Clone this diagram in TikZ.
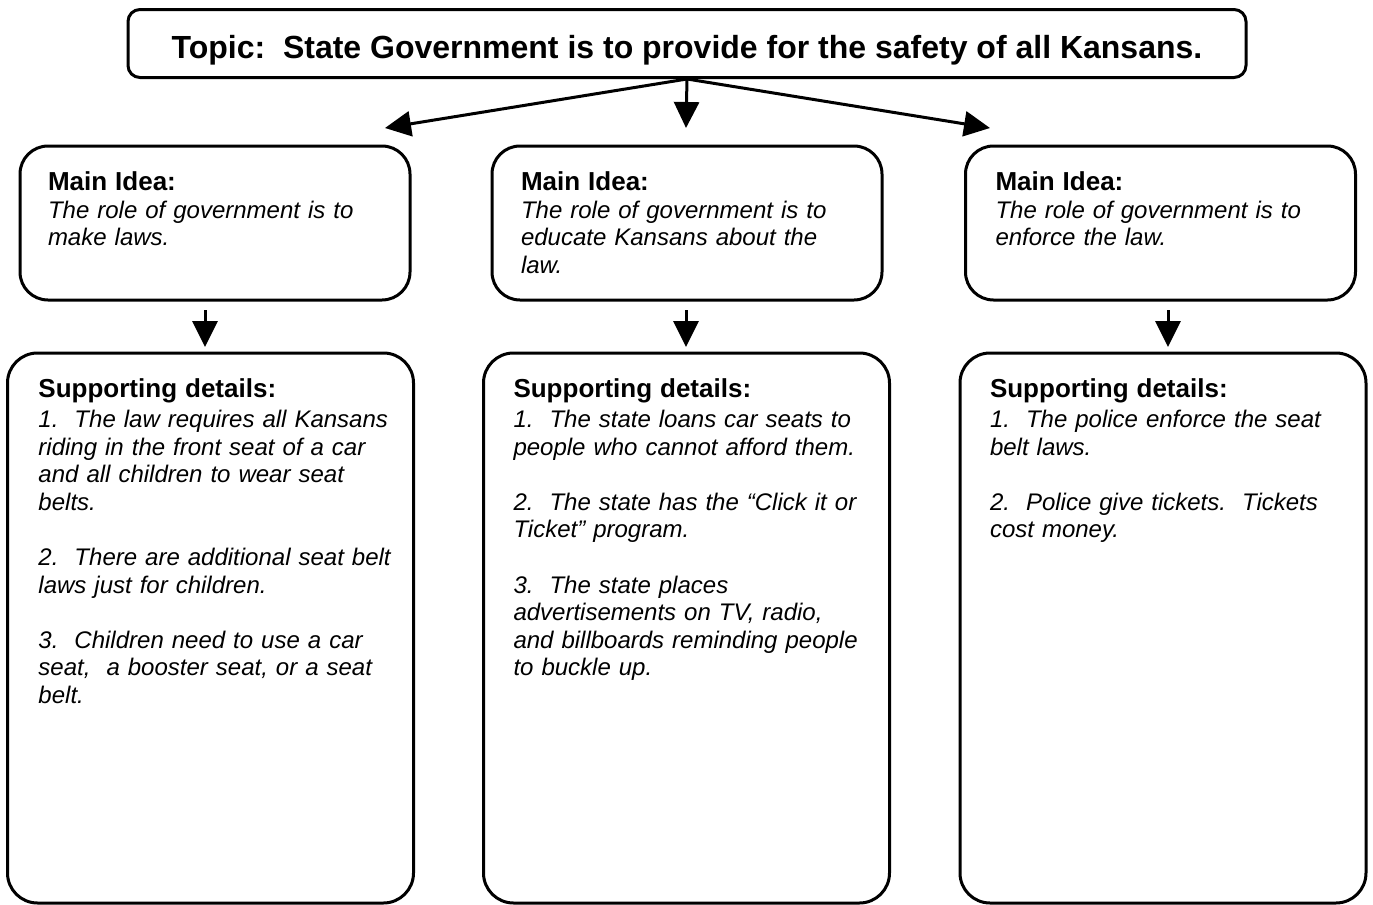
\documentclass[tikz,border=0pt]{standalone}
\usepackage{fontspec}
\setmainfont{Liberation Sans}
\usetikzlibrary{arrows.meta}

\tikzstyle{topicbox} = [rectangle, draw, rounded corners=6pt,
    minimum width=559pt, minimum height=34pt, inner sep=0pt,
    text height=14.5pt, text depth=0pt, font=\fontsize{16}{19}\selectfont\bfseries]
\tikzstyle{ideabox} = [rectangle, draw, rounded corners=14pt,
    minimum width=195pt, minimum height=77pt, inner sep=0pt]
\tikzstyle{detailbox} = [rectangle, draw, rounded corners=15pt,
    minimum width=203pt, minimum height=275pt, inner sep=0pt]
\tikzstyle{boxtext} = [anchor=north west, inner sep=0pt, align=left,
    text width=188pt, font=\fontsize{12}{13.8}\selectfont]
\tikzstyle{line} = [draw, -{Triangle[length=13pt,width=12.5pt]}]

\newcommand{\boxhead}[1]{{\fontsize{13}{13.8}\selectfont\bfseries #1}}

\begin{document}
\begin{tikzpicture}[x=0.5pt, y=-0.5pt, line width=1.5pt]
    \useasboundingbox (0,0) rectangle (1373,905);

    \node [topicbox] (topic) at (687,43.5) {Topic:~~State Government is to provide for the safety of all Kansans.};

    \node [ideabox] (ideaL) at (215,223) {};
    \node [ideabox] (ideaM) at (687,223) {};
    \node [ideabox] (ideaR) at (1160.5,223) {};

    \node [detailbox] (detL) at (210.5,628) {};
    \node [detailbox] (detM) at (686.5,628) {};
    \node [detailbox] (detR) at (1163,628) {};

    % main ideas
    \node [boxtext] (ideaLtext) at ([shift={(14pt,-12.8pt)}]ideaL.north west)
        {\boxhead{Main Idea:}\\ \itshape The role of government is to\\make laws.};
    \node [boxtext] (ideaMtext) at ([shift={(14.5pt,-12.8pt)}]ideaM.north west)
        {\boxhead{Main Idea:}\\ \itshape The role of government is to\\educate Kansans about the\\law.};
    \node [boxtext] (ideaRtext) at ([shift={(15pt,-12.8pt)}]ideaR.north west)
        {\boxhead{Main Idea:}\\ \itshape The role of government is to\\enforce the law.};

    % supporting details
    \node [boxtext] (detLtext) at ([shift={(15.5pt,-12.8pt)}]detL.north west)
        {\boxhead{Supporting details:}\\[1.2pt] \itshape
         1.~~The law requires all Kansans\\riding in the front seat of a car\\and all children to wear seat\\belts.\\[13.8pt]
         2.~~There are additional seat belt\\laws just for children.\\[13.8pt]
         3.~~Children need to use a car\\seat,~~a booster seat, or a seat\\belt.};
    \node [boxtext] (detMtext) at ([shift={(15pt,-12.8pt)}]detM.north west)
        {\boxhead{Supporting details:}\\[1.2pt] \itshape
         1.~~The state loans car seats to\\people who cannot afford them.\\[13.8pt]
         2.~~The state has the “Click it or\\Ticket” program.\\[13.8pt]
         3.~~The state places\\advertisements on TV, radio,\\and billboards reminding people\\to buckle up.};
    \node [boxtext] (detRtext) at ([shift={(15pt,-12.8pt)}]detR.north west)
        {\boxhead{Supporting details:}\\[1.2pt] \itshape
         1.~~The police enforce the seat\\belt laws.\\[13.8pt]
         2.~~Police give tickets.~~Tickets\\cost money.};

    % arrow ends
    \coordinate (tipL) at (385,128);
    \coordinate (tipM) at (686,128);
    \coordinate (tipR) at (990,128);
    \coordinate (stemL) at (205,310);
    \coordinate (headL) at (205,347);
    \coordinate (stemM) at (686,310);
    \coordinate (headM) at (686,347);
    \coordinate (stemR) at (1168,310);
    \coordinate (headR) at (1168,347);

    \path [line] (topic.south) -- (tipL);
    \path [line] (topic.south) -- (tipM);
    \path [line] (topic.south) -- (tipR);
    \path [line] (stemL) -- (headL);
    \path [line] (stemM) -- (headM);
    \path [line] (stemR) -- (headR);
\end{tikzpicture}
\end{document}
